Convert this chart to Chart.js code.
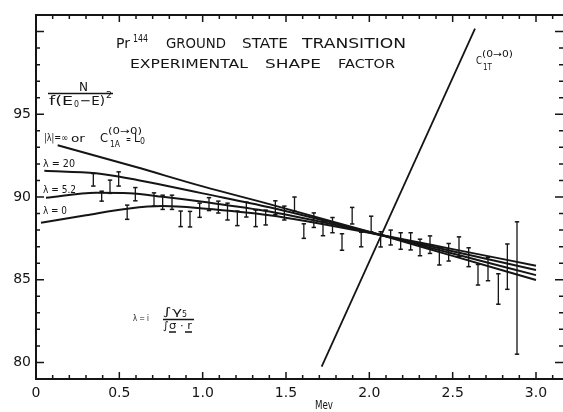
<!DOCTYPE html>
<html>
<head>
<meta charset="utf-8">
<script src="https://cdn.jsdelivr.net/npm/chart.js@4.4.0/dist/chart.umd.min.js"></script>
<style>
  html, body { margin: 0; padding: 0; background: #fff; }
</style>
</head>
<body>
<canvas id="myChart" width="563" height="412"></canvas>
<script>
// measured shape factor (energy in Mev, value, half height of error bar)
const energy = [0.344, 0.394, 0.444, 0.496, 0.547, 0.596, 0.708, 0.760, 0.816, 0.868,
  0.924, 0.982, 1.038, 1.094, 1.149, 1.208, 1.262, 1.318, 1.378, 1.436,
  1.490, 1.551, 1.607, 1.667, 1.722, 1.779, 1.836, 1.897, 1.951, 2.011,
  2.068, 2.128, 2.188, 2.248, 2.304, 2.364, 2.420, 2.476, 2.538, 2.596,
  2.652, 2.712, 2.774, 2.828, 2.886];
const shape = [91.04, 90.05, 90.62, 91.09, 89.08, 90.17, 89.85, 89.68, 89.68, 88.68,
  88.66, 89.20, 89.57, 89.39, 89.12, 88.71, 89.24, 88.71, 88.76, 89.35,
  89.03, 89.57, 87.94, 88.60, 88.10, 88.30, 87.28, 88.87, 87.43, 88.37,
  87.44, 87.55, 87.34, 87.32, 86.95, 87.12, 86.42, 86.66, 86.99, 86.36,
  85.30, 85.65, 84.44, 85.79, 84.50];
const shapeErr = [0.38, 0.30, 0.40, 0.43, 0.43, 0.40, 0.40, 0.43, 0.43, 0.47,
  0.47, 0.43, 0.39, 0.36, 0.51, 0.44, 0.45, 0.50, 0.45, 0.42,
  0.42, 0.43, 0.44, 0.44, 0.44, 0.46, 0.50, 0.50, 0.44, 0.47,
  0.46, 0.45, 0.50, 0.52, 0.50, 0.53, 0.53, 0.53, 0.60, 0.57,
  0.62, 0.71, 0.92, 1.37, 4.00];

// theory curves
const lamInfX = [0.13, 0.6, 1.0, 1.4, 2.07, 2.5, 3.0];
const lamInfY = [93.13, 91.81, 90.64, 89.57, 87.70, 86.44, 84.98];
const lam20X = [0.05, 0.36, 0.56, 0.76, 1.0, 1.4, 2.07, 2.5, 3.0];
const lam20Y = [91.58, 91.43, 91.12, 90.72, 90.22, 89.38, 87.70, 86.58, 85.28];
const lam52X = [0.06, 0.36, 0.56, 0.76, 1.0, 1.4, 2.07, 2.5, 3.0];
const lam52Y = [89.95, 90.25, 90.22, 90.01, 89.71, 89.12, 87.70, 86.72, 85.59];
const lam0X = [0.03, 0.3, 0.56, 0.76, 1.0, 1.4, 2.07, 2.5, 3.0];
const lam0Y = [88.44, 88.90, 89.31, 89.45, 89.31, 88.90, 87.70, 86.85, 85.85];
const citX = [1.714, 2.634];
const citY = [79.75, 100.18];

const xTicks = [0, 0.5, 1.0, 1.5, 2.0, 2.5, 3.0];
const yTicks = [80, 85, 90, 95];

const ink = '#151515';
const font = 'DejaVu Sans';

function pts(xs, ys) {
  return xs.map((v, i) => ({x: v, y: ys[i]}));
}

// error bars: lo, hi, gap
const barPts = [];
energy.forEach((e, i) => {
  barPts.push({x: e, y: shape[i] - shapeErr[i]});
  barPts.push({x: e, y: shape[i] + shapeErr[i]});
  barPts.push({x: e, y: null});
});

function curve(xs, ys) {
  return {
    data: pts(xs, ys),
    showLine: true,
    borderColor: ink,
    borderWidth: 2,
    pointRadius: 0,
    cubicInterpolationMode: 'monotone'
  };
}

// write text squeezed / stretched between x0 and x1
function fitText(ctx, str, x0, x1, yMid, size) {
  ctx.font = size + 'px "' + font + '"';
  const w = ctx.measureText(str).width;
  ctx.save();
  ctx.translate(x0, yMid);
  ctx.scale((x1 - x0) / w, 1);
  ctx.textBaseline = 'middle';
  ctx.textAlign = 'left';
  ctx.fillText(str, 0, 0);
  ctx.restore();
}

const labels = [
  // title
  ['Pr', 116, 130, 44.5, 14], ['144', 133, 148, 39.5, 10],
  ['GROUND', 166, 226, 44.5, 14], ['STATE', 242, 288, 44.5, 14], ['TRANSITION', 302, 406, 44.5, 14],
  ['EXPERIMENTAL', 130, 248, 64.5, 13], ['SHAPE', 265, 321, 64.5, 13], ['FACTOR', 338, 395, 64.5, 13],
  // y label
  ['N', 79, 88, 87.5, 13],
  ['f(E', 49, 73, 101.5, 13], ['0', 74, 79, 105, 9], ['\u2212E)', 80, 105, 101.5, 13], ['2', 106, 112, 96, 9],
  // curve names
  ['|\u03bb|=\u221e', 44, 68, 138.5, 10], ['or', 71, 85, 139, 11],
  ['C', 100, 108, 139, 12], ['(0\u21920)', 108, 142, 132, 9], ['1A', 110, 120, 145, 8],
  ['=', 126, 131, 140, 10], ['L', 134, 140, 139, 12], ['0', 140, 145, 142, 8],
  ['\u03bb = 20', 43, 75, 164, 11],
  ['\u03bb = 5.2', 43, 76, 190, 11],
  ['\u03bb = 0', 43, 67, 211.5, 11],
  ['C', 476, 482, 61.5, 11], ['(0\u21920)', 482, 513, 55, 9], ['1T', 483, 492, 67.5, 8],
  // lambda definition
  ['\u03bb = i', 133, 149, 318.5, 9],
  ['\u222b\u03b3', 163, 182, 312, 11], ['5', 182, 187, 315, 8],
  ['\u222b\u03c3 \u00b7 r', 163, 192, 326.5, 11],
  // x title
  ['Mev', 315, 333, 406, 13]
];

const frameTicks = {
  id: 'frameTicks',
  afterDraw(chart) {
    const {ctx, chartArea: a, scales: {x, y}} = chart;
    ctx.save();
    ctx.strokeStyle = ink;
    ctx.lineWidth = 2;
    ctx.beginPath();
    ctx.moveTo(a.left, a.top); ctx.lineTo(a.right + 2, a.top);
    ctx.moveTo(a.left, a.top - 1); ctx.lineTo(a.left, a.bottom + 1);
    ctx.moveTo(a.left, a.bottom); ctx.lineTo(a.right + 2, a.bottom);
    ctx.stroke();
    ctx.lineWidth = 1.5;
    ctx.beginPath();
    for (let k = 0; k <= 31; k++) {
      const px = x.getPixelForValue(k / 10);
      const len = k % 5 === 0 ? 7 : 4;
      ctx.moveTo(px, a.bottom); ctx.lineTo(px, a.bottom - len);
      ctx.moveTo(px, a.top); ctx.lineTo(px, a.top + len);
    }
    for (let v = 80; v <= 100; v++) {
      const py = y.getPixelForValue(v);
      const len = v % 5 === 0 ? 8 : 4;
      ctx.moveTo(a.left, py); ctx.lineTo(a.left + len, py);
      ctx.moveTo(a.right, py); ctx.lineTo(a.right - len, py);
    }
    ctx.stroke();

    // fraction bars and vector underlines
    ctx.lineWidth = 1.3;
    ctx.beginPath();
    ctx.moveTo(48, 93.5); ctx.lineTo(113, 93.5);
    ctx.moveTo(163, 319.5); ctx.lineTo(194, 319.5);
    ctx.moveTo(169, 332); ctx.lineTo(176, 332);
    ctx.moveTo(185, 332); ctx.lineTo(192, 332);
    ctx.stroke();

    ctx.fillStyle = ink;
    labels.forEach(l => fitText(ctx, l[0], l[1], l[2], l[3], l[4]));
    ctx.restore();
  }
};

const config = {
  type: 'scatter',
  data: {
    datasets: [
      curve(lamInfX, lamInfY),
      curve(lam20X, lam20Y),
      curve(lam52X, lam52Y),
      curve(lam0X, lam0Y),
      {
        data: pts(citX, citY),
        showLine: true,
        borderColor: ink,
        borderWidth: 1.8,
        pointRadius: 0
      },
      {
        data: barPts,
        showLine: true,
        spanGaps: false,
        borderColor: ink,
        borderWidth: 1.3,
        pointStyle: 'line',
        pointRadius: 2.2,
        pointBorderWidth: 1.5,
        pointBorderColor: ink
      }
    ]
  },
  options: {
    responsive: false,
    animation: false,
    layout: {autoPadding: false, padding: {top: 15, right: 0, left: 0, bottom: 0}},
    plugins: {legend: {display: false}, tooltip: {enabled: false}},
    scales: {
      x: {
        type: 'linear',
        min: 0,
        max: 3.162,
        grid: {display: false, drawTicks: false},
        border: {display: false},
        afterBuildTicks: s => { s.ticks = xTicks.map(v => ({value: v})); },
        afterFit: s => { s.height = 33; s.paddingLeft = 0; s.paddingRight = 0; },
        ticks: {
          color: ink,
          padding: 6,
          maxRotation: 0,
          font: {family: font, size: 14},
          callback: v => v === 0 ? '0' : v.toFixed(1)
        }
      },
      y: {
        min: 79,
        max: 101,
        grid: {display: false, drawTicks: false},
        border: {display: false},
        afterBuildTicks: s => { s.ticks = yTicks.map(v => ({value: v})); },
        afterFit: s => { s.width = 36; s.paddingTop = 0; s.paddingBottom = 0; },
        ticks: {
          color: ink,
          padding: 5,
          font: {family: font, size: 14}
        }
      }
    }
  },
  plugins: [frameTicks]
};

const myChart = new Chart(document.getElementById('myChart'), config);
</script>
</body>
</html>
